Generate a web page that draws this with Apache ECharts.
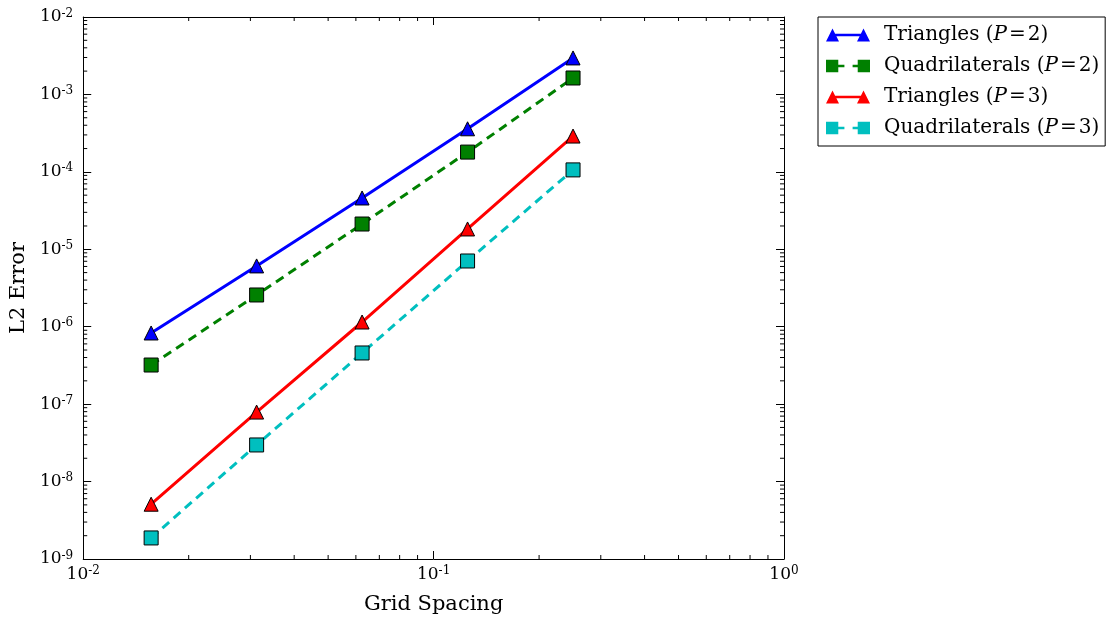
<!DOCTYPE html>
<html><head><meta charset="utf-8">
<script src="https://cdn.jsdelivr.net/npm/echarts@6/dist/echarts.min.js"></script>
<style>html,body{margin:0;padding:0;background:#fff}#c{width:1113px;height:621px}</style>
</head><body><div id="c"></div>
<script>
// ---- data ----
const gridSpacing = [0.015625, 0.03125, 0.0625, 0.125, 0.25];
const triP2  = [8.3e-7, 6.1e-6, 4.6e-5, 3.6e-4, 2.96e-3];
const quadP2 = [3.2e-7, 2.57e-6, 2.12e-5, 1.8e-4, 1.63e-3];
const triP3  = [5.1e-9, 7.9e-8, 1.15e-6, 1.83e-5, 2.9e-4];
const quadP3 = [1.87e-9, 2.97e-8, 4.58e-7, 7.06e-6, 1.06e-4];
const seriesNames = ['Triangles (P=2)', 'Quadrilaterals (P=2)', 'Triangles (P=3)', 'Quadrilaterals (P=3)'];
const legendLabels = ['Triangles (', 'Quadrilaterals (', 'Triangles (', 'Quadrilaterals ('];
const legendP = ['2', '2', '3', '3'];
const xTickExponents = [-2, -1, 0];
const yTickExponents = [-9, -8, -7, -6, -5, -4, -3, -2];
const minorMantissas = [2, 3, 4, 5, 6, 7, 8, 9];

const xMin = Math.pow(10, xTickExponents[0]), xMax = Math.pow(10, xTickExponents[xTickExponents.length - 1]);
const yMin = Math.pow(10, yTickExponents[0]), yMax = Math.pow(10, yTickExponents[yTickExponents.length - 1]);

const xMinor = [], yMinor = [];
xTickExponents.slice(0, -1).forEach(e => minorMantissas.forEach(m => xMinor.push([m * Math.pow(10, e), yMin])));
yTickExponents.slice(0, -1).forEach(e => minorMantissas.forEach(m => yMinor.push([xMin, m * Math.pow(10, e)])));

const FONT = 'DejaVu Serif';
function pow10Label(v) {
  const e = Math.round(Math.log10(v));
  return '{b|10}{s|' + e + '}';
}
const richTick = {
  b: {fontFamily: FONT, fontSize: 17, color: '#000'},
  s: {fontFamily: FONT, fontSize: 12, color: '#000', padding: [0, 0, 7, 0]}
};

const colors = ['#0000ff', '#008000', '#ff0000', '#00bfbf'];
const triIcon = 'path://M0,13L6.5,0L13,13Z M31,13L37.5,0L44,13Z M6.5,5.3L37.5,5.3L37.5,7.7L6.5,7.7Z';
const quadIcon = 'path://M0,0.5L12,0.5L12,12.5L0,12.5Z M12,5.3L18,5.3L18,7.7L12,7.7Z M26,5.3L31,5.3L31,7.7L26,7.7Z M31,0.5L43,0.5L43,12.5L31,12.5Z';

function mkSeries(i, values, symbol, dashed) {
  return {
    name: seriesNames[i], type: 'line',
    data: gridSpacing.map((x, k) => [x, values[k]]),
    symbol: symbol, symbolSize: 14,
    lineStyle: {color: colors[i], width: 3, type: dashed ? [9, 6] : 'solid'},
    itemStyle: {color: colors[i], borderColor: '#000', borderWidth: 1},
    emphasis: {disabled: true}, z: 3 + i
  };
}

function tickItem(isX) {
  return function (params, api) {
    const v = isX ? api.value(0) : api.value(1);
    const a = isX ? api.coord([v, yMin]) : api.coord([xMin, v]);
    const b = isX ? api.coord([v, yMax]) : api.coord([xMax, v]);
    const L = 4;
    const st = {stroke: '#000', lineWidth: 1};
    return {type: 'group', children: isX ? [
      {type: 'line', shape: {x1: a[0], y1: a[1], x2: a[0], y2: a[1] - L}, style: st},
      {type: 'line', shape: {x1: b[0], y1: b[1], x2: b[0], y2: b[1] + L}, style: st}
    ] : [
      {type: 'line', shape: {x1: a[0], y1: a[1], x2: a[0] + L, y2: a[1]}, style: st},
      {type: 'line', shape: {x1: b[0], y1: b[1], x2: b[0] - L, y2: b[1]}, style: st}
    ]};
  };
}

const baseAxis = {
  type: 'log', logBase: 10, splitLine: {show: false},
  axisTick: {show: true, inside: true, length: 8, lineStyle: {color: '#000', width: 1}},
  axisLine: {show: true, onZero: false, lineStyle: {color: '#000', width: 1}},
};

const chart = echarts.init(document.getElementById('c'), null, {renderer: 'canvas'});
chart.setOption({
  animation: false,
  backgroundColor: '#fff',
  grid: {left: 83, right: 329, top: 17, bottom: 62, show: false},
  legend: {
    orient: 'vertical', left: 818, top: 17,
    data: seriesNames.map((n, i) => ({name: n, icon: i % 2 === 0 ? triIcon : quadIcon})),
    itemWidth: 44, itemHeight: 13, itemGap: 11,
    padding: [8, 6, 8, 8],
    borderColor: '#000', borderWidth: 1, backgroundColor: '#fff',
    itemStyle: {borderWidth: 0},
    selectedMode: false,
    formatter: n => { const i = seriesNames.indexOf(n); return '{t|' + legendLabels[i] + '}{i|P}{t|\u200A=\u200A' + legendP[i] + ')}'; },
    textStyle: {
      fontFamily: FONT, fontSize: 20, color: '#000', padding: [0, 0, 0, 9],
      rich: {
        t: {fontFamily: FONT, fontSize: 20, color: '#000'},
        i: {fontFamily: FONT, fontSize: 20, color: '#000', fontStyle: 'italic'}
      }
    }
  },
  xAxis: [
    Object.assign({}, baseAxis, {
      min: xMin, max: xMax, position: 'bottom',
      name: 'Grid Spacing', nameLocation: 'middle', nameGap: 35,
      nameTextStyle: {fontFamily: FONT, fontSize: 21, color: '#000'},
      axisLabel: {formatter: pow10Label, rich: richTick, margin: 6}
    }),
    Object.assign({}, baseAxis, {
      min: xMin, max: xMax, position: 'top', axisLabel: {show: false}
    })
  ],
  yAxis: [
    Object.assign({}, baseAxis, {
      min: yMin, max: yMax, position: 'left',
      name: 'L2 Error', nameLocation: 'middle', nameGap: 52,
      nameTextStyle: {fontFamily: FONT, fontSize: 21, color: '#000'},
      axisLabel: {formatter: pow10Label, rich: richTick, margin: 10}
    }),
    Object.assign({}, baseAxis, {
      min: yMin, max: yMax, position: 'right', axisLabel: {show: false}
    })
  ],
  series: [
    {type: 'custom', name: 'xminor', data: xMinor, renderItem: tickItem(true), silent: true, clip: false, z: 1},
    {type: 'custom', name: 'yminor', data: yMinor, renderItem: tickItem(false), silent: true, clip: false, z: 1},
    mkSeries(0, triP2, 'triangle', false),
    mkSeries(1, quadP2, 'rect', true),
    mkSeries(2, triP3, 'triangle', false),
    mkSeries(3, quadP3, 'rect', true)
  ]
});
</script>
</body></html>
